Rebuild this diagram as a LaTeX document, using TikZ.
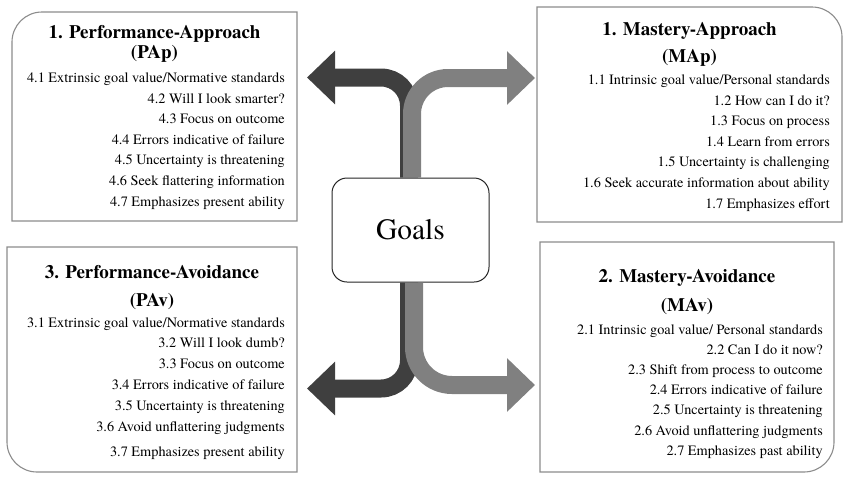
\documentclass[tikz,border=0pt]{standalone}
\usepackage{fontspec}
\setmainfont{texgyretermes}[Extension=.otf,UprightFont=*-regular,BoldFont=*-bold,
  ItalicFont=*-italic,BoldItalicFont=*-bolditalic]
\usetikzlibrary{arrows.meta}
\definecolor{arrowdark}{HTML}{3F3F3F}
\definecolor{arrowgray}{HTML}{808080}
\definecolor{boxline}{HTML}{8C8C8C}
\tikzset{
 goal box/.style={draw=boxline,line width=1.1pt},
 goal title/.style={font=\bfseries\fontsize{19}{21}\selectfont,anchor=base,inner sep=0pt},
 goal item/.style={font=\fontsize{14.3}{17}\selectfont,anchor=base east,inner sep=0pt},
 goal centre/.style={draw=black!85,line width=1pt,rounded corners=15pt,fill=white,
                     minimum width=157pt,minimum height=104pt,
                     font=\fontsize{29.5}{32}\selectfont},
 goal arrow/.style={line width=18pt,-{Triangle[length=28pt,width=52pt]}}
}

\begin{document}
\begin{tikzpicture}[x=1pt,y=-1pt]
 \useasboundingbox (0,0) rectangle (850,485);
 % four boxes, one round corner each
 \draw[goal box] (297,221) -- (12,221) -- (12,42)
   .. controls (12,25.4) and (25.4,12) .. (42,12) -- (297,12) -- cycle;
 \draw[goal box] (537,222) -- (537,7) -- (812,7)
   .. controls (828.6,7) and (842,20.4) .. (842,37) -- (842,222) -- cycle;
 \draw[goal box] (297,247) -- (7,247) -- (7,442)
   .. controls (7,458.6) and (20.4,472) .. (37,472) -- (297,472) -- cycle;
 \draw[goal box] (540,242) -- (834,242) -- (834,442)
   .. controls (834,458.6) and (820.6,472) .. (804,472) -- (540,472) -- cycle;

 % centre and arrows
 \node[goal centre] (goals) at (410.5,230) {Goals};
 \coordinate (tipPAp) at (307,77.5);
 \coordinate (tipMAp) at (535,78);
 \coordinate (tipPAv) at (307,388.5);
 \coordinate (tipMAv) at (535,385);
 \draw[goal arrow,arrowdark,rounded corners=28pt] ([xshift=-1.5pt]goals.north) |- (tipPAp);
 \draw[goal arrow,arrowgray,rounded corners=36pt] ([xshift=1.5pt]goals.north) |- (tipMAp);
 \draw[goal arrow,arrowdark,rounded corners=28pt] ([xshift=-1.5pt]goals.south) |- (tipPAv);
 \draw[goal arrow,arrowgray,rounded corners=38pt] ([xshift=3.5pt]goals.south) |- (tipMAv);

 % 1. Performance-Approach
 \node[goal title] (papT1) at (154.5,38) {1. Performance-Approach};
 \node[goal title] (papT2) at (154.5,58.5) {(PAp)};
 \foreach \y/\t [count=\i] in {82.5/{4.1 Extrinsic goal value/Normative standards},
   103.1/{4.2 Will I look smarter?}, 123.7/{4.3 Focus on outcome},
   144.3/{4.4 Errors indicative of failure}, 164.9/{4.5 Uncertainty is threatening},
   185.5/{4.6 Seek flattering information}, 206.1/{4.7 Emphasizes present ability}}
   \node[goal item] (pap\i) at (285,\y) {\t};

 % 1. Mastery-Approach
 \node[goal title] (mapT1) at (689.5,35) {1. Mastery-Approach};
 \node[goal title] (mapT2) at (689.5,62) {(MAp)};
 \foreach \y/\t [count=\i] in {84.5/{1.1 Intrinsic goal value/Personal standards},
   105.1/{1.2 How can I do it?}, 125.7/{1.3 Focus on process},
   146.3/{1.4 Learn from errors}, 166.9/{1.5 Uncertainty is challenging},
   187.5/{1.6 Seek accurate information about ability}, 208.1/{1.7 Emphasizes effort}}
   \node[goal item] (map\i) at (830,\y) {\t};

 % 3. Performance-Avoidance
 \node[goal title] (pavT1) at (152,278) {3. Performance-Avoidance};
 \node[goal title] (pavT2) at (152,306) {(PAv)};
 \foreach \y/\t [count=\i] in {327/{3.1 Extrinsic goal value/Normative standards},
   347.8/{3.2 Will I look dumb?}, 368.6/{3.3 Focus on outcome},
   389.4/{3.4 Errors indicative of failure}, 410.2/{3.5 Uncertainty is threatening},
   431/{3.6 Avoid unflattering judgments}, 456/{3.7 Emphasizes present ability}}
   \node[goal item] (pav\i) at (285,\y) {\t};

 % 2. Mastery-Avoidance
 \node[goal title] (mavT1) at (687,282) {2. Mastery-Avoidance};
 \node[goal title] (mavT2) at (687,311) {(MAv)};
 \foreach \y/\t [count=\i] in {334/{2.1 Intrinsic goal value/ Personal standards},
   354.2/{2.2 Can I do it now?}, 374.4/{2.3 Shift from process to outcome},
   394.6/{2.4 Errors indicative of failure}, 414.8/{2.5 Uncertainty is threatening},
   435/{2.6 Avoid unflattering judgments}, 455.2/{2.7 Emphasizes past ability}}
   \node[goal item] (mav\i) at (823,\y) {\t};
\end{tikzpicture}
\end{document}
